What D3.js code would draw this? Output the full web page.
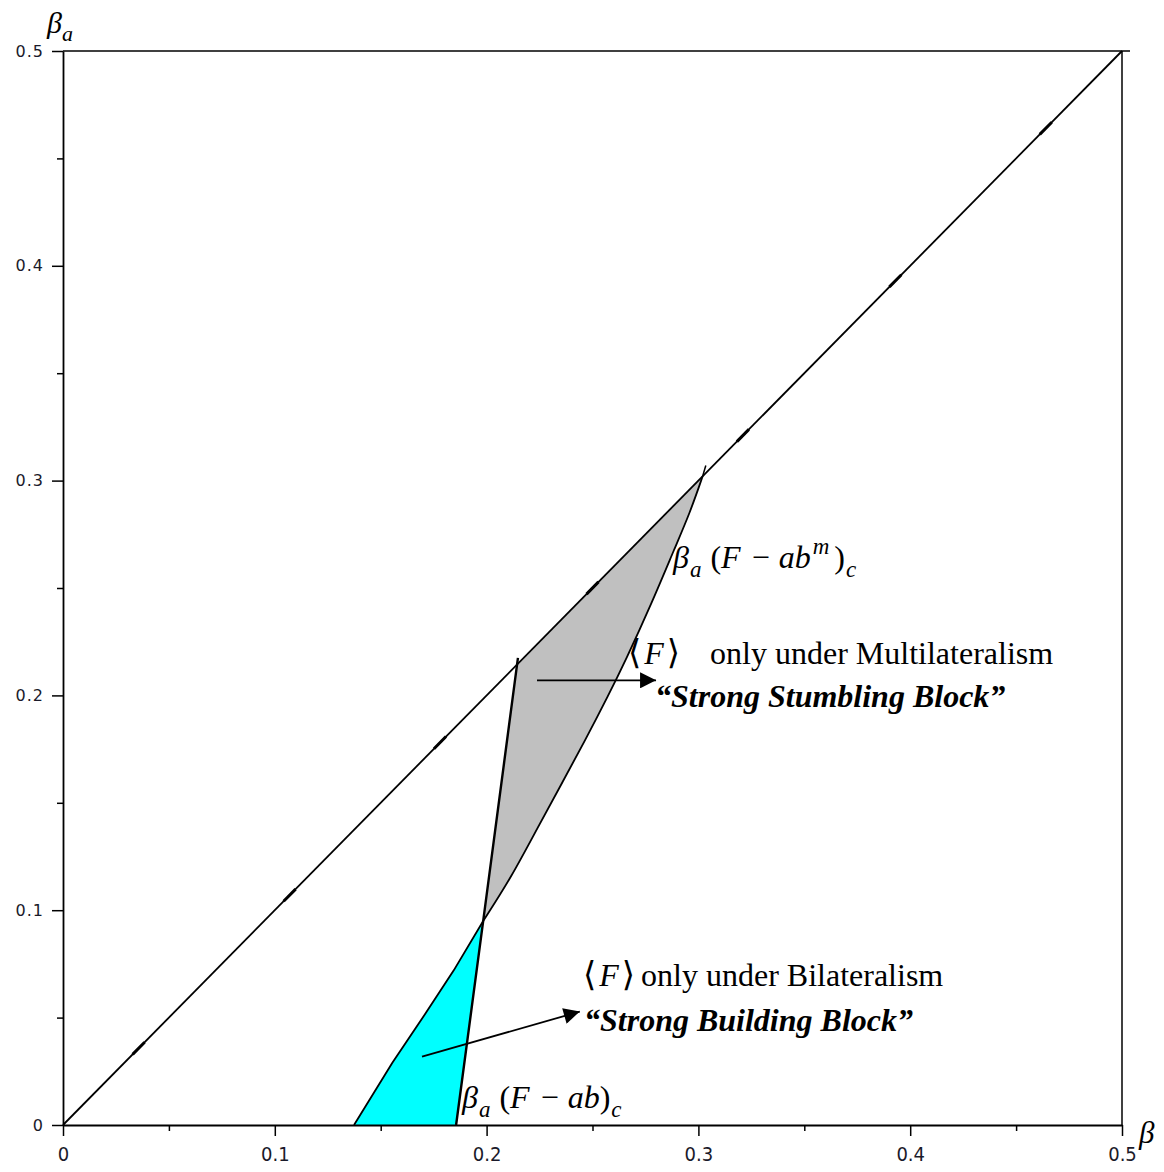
<!DOCTYPE html>
<html>
<head>
<meta charset="utf-8">
<script src="https://cdn.jsdelivr.net/npm/d3@7"></script>
<style>
  body { margin: 0; background: #fff; }
  svg { display: block; }
  .lbl { font-family: "Liberation Serif", "Times New Roman", serif; fill: #000; }
  .xlab { font-family: "DejaVu Sans Condensed", "DejaVu Sans", sans-serif; font-size: 20px; fill: #1a1a2a; }
  .ylab { font-family: "DejaVu Sans", sans-serif; font-size: 16px; letter-spacing: 1px; fill: #1a1a2a; }
</style>
</head>
<body>
<div id="chart"></div>
<script>
// axis ticks
var majorTicks = [0, 0.1, 0.2, 0.3, 0.4, 0.5];
var minorTicks = [0.05, 0.15, 0.25, 0.35, 0.45];
var tickLabels = ["0", "0.1", "0.2", "0.3", "0.4", "0.5"];

// boundaries [beta, beta_a]
var diagonal = [[0, 0], [0.5, 0.5]];
var fabLine = [[0.1856, 0], [0.1984, 0.095], [0.2148, 0.2175]];          // beta_a(F-ab)_c
var fabmCurve = [[0.1984, 0.095], [0.2115, 0.115], [0.2244, 0.139], [0.2355, 0.159],
                 [0.2465, 0.179], [0.2575, 0.200], [0.2655, 0.216], [0.2780, 0.243],
                 [0.2890, 0.269], [0.2960, 0.285], [0.3020, 0.302]];    // beta_a(F-ab^m)_c
var fabmTip = [[0.3020, 0.302], [0.3035, 0.307]];
var cyanLeft = [[0.1374, 0], [0.1555, 0.029], [0.1712, 0.052], [0.1845, 0.072], [0.1984, 0.095]];
var topOfGrey = [0.2144, 0.2144];
var footOfFab = [0.1856, 0];

// little thick dashes along the diagonal (plot artifacts)
var diagMarks = [0.0357, 0.107, 0.178, 0.25, 0.321, 0.393, 0.464];

// annotation arrows [from, to]
var arrows = [
  [[0.2238, 0.2070], [0.2800, 0.2070]],
  [[0.1695, 0.0318], [0.2440, 0.0528]]
];

var W = 1164, H = 1172;
var x = d3.scaleLinear().domain([0, 0.5]).range([63, 1122]);
var y = d3.scaleLinear().domain([0, 0.5]).range([1125, 51]);

var svg = d3.select("#chart").append("svg")
  .attr("width", W)
  .attr("height", H);

svg.append("defs").append("marker")
  .attr("id", "head")
  .attr("viewBox", "0 0 10 10")
  .attr("refX", 10)
  .attr("refY", 5)
  .attr("markerWidth", 18)
  .attr("markerHeight", 16)
  .attr("markerUnits", "userSpaceOnUse")
  .attr("orient", "auto")
  .append("path")
  .attr("d", "M0,0 L10,5 L0,10 z")
  .attr("fill", "#000");

var line = d3.line().x(function (d) { return x(d[0]); }).y(function (d) { return y(d[1]); });
var smooth = d3.line().curve(d3.curveBasis)
  .x(function (d) { return x(d[0]); }).y(function (d) { return y(d[1]); });
function pt(d) { return "L" + x(d[0]) + "," + y(d[1]); }

// filled regions: curved edge + straight edges
var greyPath = smooth(fabmCurve) + pt(topOfGrey) + "Z";
var cyanPath = line(cyanLeft) + pt(footOfFab) + "Z";
svg.append("path").attr("d", greyPath).attr("fill", "#c0c0c0");
svg.append("path").attr("d", cyanPath).attr("fill", "#00ffff");

// frame (top and right)
svg.append("line").attr("x1", x(0)).attr("x2", x(0.5) + 8).attr("y1", y(0.5)).attr("y2", y(0.5))
  .attr("stroke", "#000").attr("stroke-width", 1.5);
svg.append("line").attr("x1", x(0.5)).attr("x2", x(0.5)).attr("y1", y(0.5)).attr("y2", y(0))
  .attr("stroke", "#000").attr("stroke-width", 1.5);

// curves
svg.append("path").attr("d", line(diagonal)).attr("fill", "none").attr("stroke", "#000").attr("stroke-width", 1.8);
svg.append("path").attr("d", line(cyanLeft)).attr("fill", "none").attr("stroke", "#000").attr("stroke-width", 1.8);
svg.append("path").attr("d", smooth(fabmCurve)).attr("fill", "none").attr("stroke", "#000").attr("stroke-width", 1.8);
svg.append("path").attr("d", line(fabmTip)).attr("fill", "none").attr("stroke", "#000").attr("stroke-width", 1.5);
svg.append("path").attr("d", line(fabLine)).attr("fill", "none").attr("stroke", "#000").attr("stroke-width", 2.4);

var slope = (y(0) - y(0.5)) / (x(0.5) - x(0));
svg.selectAll(".dmark")
  .data(diagMarks)
  .enter().append("line")
  .classed("dmark", true)
  .attr("x1", function (d) { return x(d) - 6; })
  .attr("y1", function (d) { return y(d) + 6 * slope; })
  .attr("x2", function (d) { return x(d) + 6; })
  .attr("y2", function (d) { return y(d) - 6 * slope; })
  .attr("stroke", "#000")
  .attr("stroke-width", 3);

// axes
var fmt = function (d, i) { return tickLabels[i]; };

var xMajor = svg.append("g").attr("transform", "translate(0," + y(0) + ")")
  .call(d3.axisBottom(x).tickValues(majorTicks).tickSize(11).tickSizeOuter(0).tickFormat(fmt));
xMajor.attr("font-size", null).attr("font-family", null);
xMajor.selectAll(".tick text")
  .attr("class", "xlab")
  .attr("y", 22)
  .attr("dy", "0.71em");
svg.append("g").attr("transform", "translate(0," + y(0) + ")")
  .call(d3.axisBottom(x).tickValues(minorTicks).tickSize(6).tickFormat(""))
  .select(".domain").remove();

var yMajor = svg.append("g").attr("transform", "translate(" + x(0) + ",0)")
  .call(d3.axisLeft(y).tickValues(majorTicks).tickSize(11).tickSizeOuter(0).tickFormat(fmt));
yMajor.attr("font-size", null).attr("font-family", null);
yMajor.selectAll(".tick text")
  .attr("class", "ylab")
  .attr("x", -19);
svg.append("g").attr("transform", "translate(" + x(0) + ",0)")
  .call(d3.axisLeft(y).tickValues(minorTicks).tickSize(6).tickFormat(""))
  .select(".domain").remove();

svg.selectAll(".domain").attr("stroke-width", 1.8);
svg.selectAll(".tick line").attr("stroke-width", 1.5);

// arrows
svg.selectAll(".arrow")
  .data(arrows)
  .enter().append("line")
  .classed("arrow", true)
  .attr("x1", function (d) { return x(d[0][0]); })
  .attr("y1", function (d) { return y(d[0][1]); })
  .attr("x2", function (d) { return x(d[1][0]); })
  .attr("y2", function (d) { return y(d[1][1]); })
  .attr("stroke", "#000")
  .attr("stroke-width", 1.8)
  .attr("marker-end", "url(#head)");

// axis titles
var t = svg.append("text").attr("class", "lbl").attr("x", 47).attr("y", 33).style("font-style", "italic");
t.append("tspan").text("β").style("font-size", "30px");
t.append("tspan").text("a").style("font-size", "22px").attr("dy", 8);

svg.append("text").attr("class", "lbl").attr("x", 1139).attr("y", 1143)
  .style("font-style", "italic").style("font-size", "31px").text("β");

// formula labels
function formula(px, py, sup) {
  var g = svg.append("text").attr("class", "lbl").attr("x", px).attr("y", py).style("font-size", "32px");
  g.append("tspan").text("β").style("font-style", "italic");
  g.append("tspan").text("a").style("font-style", "italic").style("font-size", "23px").attr("dy", 9).attr("dx", 1);
  g.append("tspan").text("(").attr("dy", -9).attr("dx", 9);
  g.append("tspan").text("F").style("font-style", "italic");
  g.append("tspan").text("−").attr("dx", 11);
  g.append("tspan").text("ab").style("font-style", "italic").attr("dx", 9);
  if (sup) {
    g.append("tspan").text(sup).style("font-style", "italic").style("font-size", "23px").attr("dy", -14).attr("dx", 2);
    g.append("tspan").text(")").attr("dy", 14).attr("dx", 5);
  } else {
    g.append("tspan").text(")");
  }
  g.append("tspan").text("c").style("font-style", "italic").style("font-size", "23px").attr("dy", 9).attr("dx", 1);
}
formula(673, 568, "m");
formula(462, 1108, null);

function region(px, py, gap, bx, by, what, name) {
  var a = svg.append("text").attr("class", "lbl").attr("x", px).attr("y", py).style("font-size", "32px");
  a.append("tspan").text("⟨").style("font-family", "'DejaVu Serif', serif").style("font-size", "34px");
  a.append("tspan").text("F").style("font-style", "italic").attr("dx", 3);
  a.append("tspan").text("⟩").style("font-family", "'DejaVu Serif', serif").style("font-size", "34px").attr("dx", 3);
  a.append("tspan").text("only under " + what).attr("dx", gap);
  svg.append("text").attr("class", "lbl").attr("x", bx).attr("y", by)
    .style("font-size", "32px").style("font-style", "italic").style("font-weight", "bold")
    .text("“" + name + "”");
}
region(628, 664, 30, 655, 707, "Multilateralism", "Strong Stumbling Block");
region(583, 986, 6, 584, 1031, "Bilateralism", "Strong Building Block");
</script>
</body>
</html>
